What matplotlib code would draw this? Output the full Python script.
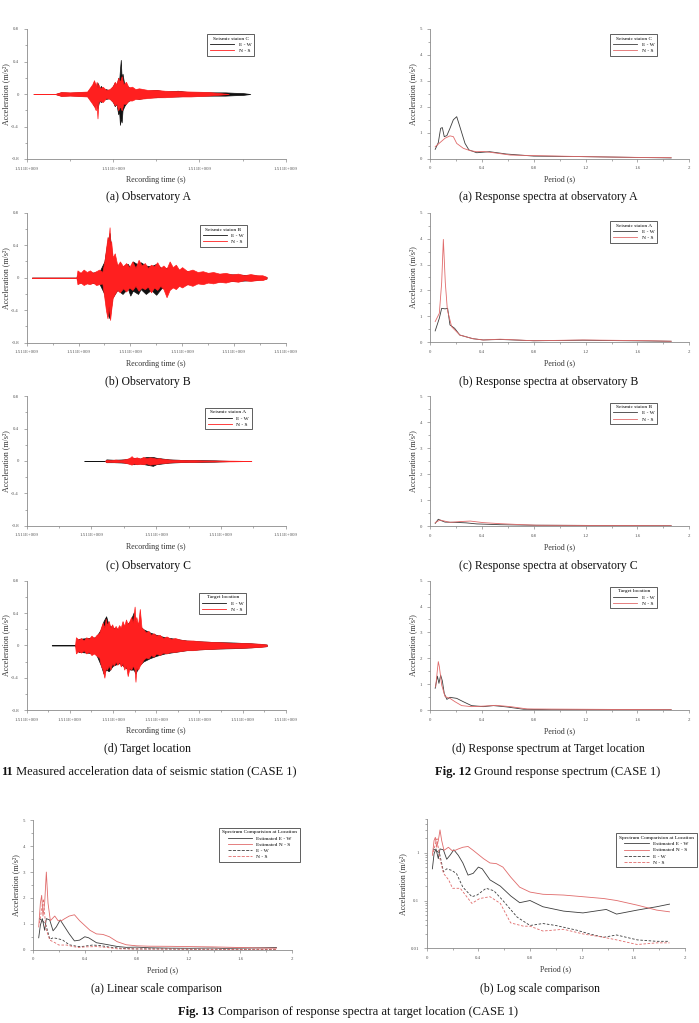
from matplotlib import pyplot as plt
from matplotlib.lines import Line2D
from matplotlib.ticker import MultipleLocator, FuncFormatter, LogLocator, NullFormatter

# ----- GENERAL STYLE -----
plt.rcParams['font.family'] = ['Liberation Serif', 'DejaVu Serif']

W, H = 699, 1023
EW_DARK = '#111111'     # E-W TRACE IN TIME HISTORIES
NS_RED = '#ff1f1f'      # N-S TRACE IN TIME HISTORIES
EW_SPEC = '#3c3c3c'     # E-W SPECTRUM
NS_SPEC = '#e06a6a'     # N-S SPECTRUM
AXIS_COL = '#8a8a8a'

# ----- TIME HISTORY DATA (seconds after T0, envelope of the record, m/s2) -----
T0 = 1511000000

# (a) OBSERVATORY A  (seismic station C)
a_ew_t = [8, 33, 40, 50, 60, 70, 76, 78, 80, 82, 84, 86, 88, 92, 96, 100, 102, 104, 106, 107,
          108, 109, 110, 111, 113, 116, 120, 125, 130, 140, 150, 160, 175, 190, 210, 230, 240, 250, 259]
a_ew_up = [0, 0, 0.02, 0.015, 0.02, 0.02, 0.1, 0.15, 0.08, 0.14, 0.06, 0.1, 0.05, 0.06, 0.04, 0.1,
           0.14, 0.1, 0.2, 0.15, 0.3, 0.42, 0.18, 0.25, 0.12, 0.1, 0.07, 0.05, 0.06, 0.04, 0.05, 0.03,
           0.04, 0.02, 0.02, 0.02, 0.015, 0.012, 0]
a_ew_lo = [0, 0, -0.02, -0.015, -0.02, -0.02, -0.1, -0.15, -0.1, -0.18, -0.08, -0.1, -0.05, -0.06,
           -0.05, -0.1, -0.15, -0.12, -0.25, -0.2, -0.38, -0.3, -0.35, -0.2, -0.15, -0.1, -0.07, -0.05,
           -0.06, -0.04, -0.04, -0.03, -0.03, -0.02, -0.02, -0.02, -0.015, -0.012, 0]
a_ns_t = [8, 33, 40, 50, 60, 70, 76, 78, 80, 81, 82, 83, 85, 88, 92, 96, 100, 102, 104, 106, 108,
          110, 112, 115, 118, 122, 126, 130, 140, 150, 160, 175, 190, 210, 234]
a_ns_up = [0, 0, 0.025, 0.02, 0.025, 0.03, 0.12, 0.17, 0.1, 0.15, 0.08, 0.12, 0.07, 0.09, 0.05,
           0.06, 0.1, 0.15, 0.12, 0.2, 0.15, 0.22, 0.12, 0.15, 0.08, 0.09, 0.06, 0.07, 0.05, 0.05,
           0.04, 0.035, 0.03, 0.025, 0]
a_ns_lo = [0, 0, -0.025, -0.02, -0.025, -0.03, -0.12, -0.15, -0.2, -0.12, -0.3, -0.1, -0.08, -0.1,
           -0.05, -0.06, -0.1, -0.14, -0.12, -0.2, -0.15, -0.2, -0.12, -0.12, -0.08, -0.08, -0.06,
           -0.06, -0.05, -0.04, -0.04, -0.03, -0.03, -0.02, 0]

# (b) OBSERVATORY B  (seismic station B)
b_ew_t = [10, 96, 100, 120, 140, 150, 156, 160, 165, 175, 185, 195, 200, 205, 215, 220, 230, 240,
          250, 260, 270, 285, 300, 330, 360, 400, 440, 463]
b_ew_up = [0, 0, 0.06, 0.06, 0.07, 0.2, 0.45, 0.55, 0.25, 0.15, 0.14, 0.17, 0.12, 0.2, 0.16, 0.19,
           0.15, 0.14, 0.17, 0.12, 0.12, 0.1, 0.09, 0.06, 0.05, 0.04, 0.03, 0.01]
b_ew_lo = [0, 0, -0.06, -0.06, -0.07, -0.2, -0.45, -0.5, -0.25, -0.15, -0.2, -0.13, -0.22, -0.16,
           -0.2, -0.14, -0.2, -0.15, -0.21, -0.13, -0.12, -0.1, -0.09, -0.06, -0.05, -0.04, -0.03, -0.01]
b_ns_t = [10, 96, 98, 104, 110, 116, 122, 128, 134, 140, 146, 150, 153, 156, 158, 160, 161, 163, 166,
          170, 175, 180, 186, 192, 198, 204, 210, 216, 222, 228, 234, 240, 246, 252, 258, 264, 270,
          276, 282, 288, 294, 300, 310, 320, 330, 340, 350, 360, 372, 384, 396, 408, 420, 432, 444,
          455, 463]
b_ns_up = [0, 0, 0.09, 0.06, 0.1, 0.07, 0.09, 0.06, 0.08, 0.1, 0.07, 0.2, 0.35, 0.5, 0.45, 0.62,
           0.4, 0.45, 0.25, 0.3, 0.15, 0.2, 0.14, 0.18, 0.13, 0.2, 0.12, 0.22, 0.15, 0.18, 0.12, 0.16,
           0.14, 0.19, 0.12, 0.15, 0.11, 0.2, 0.13, 0.16, 0.1, 0.13, 0.08, 0.1, 0.07, 0.08, 0.06, 0.07,
           0.05, 0.06, 0.04, 0.05, 0.03, 0.045, 0.03, 0.03, 0.01]
b_ns_lo = [0, 0, -0.08, -0.06, -0.09, -0.07, -0.08, -0.06, -0.09, -0.08, -0.07, -0.25, -0.4, -0.5,
           -0.35, -0.45, -0.52, -0.4, -0.25, -0.2, -0.15, -0.18, -0.13, -0.17, -0.12, -0.15, -0.1,
           -0.16, -0.12, -0.14, -0.11, -0.18, -0.12, -0.15, -0.1, -0.14, -0.24, -0.15, -0.12, -0.14,
           -0.1, -0.12, -0.08, -0.1, -0.07, -0.08, -0.06, -0.07, -0.05, -0.06, -0.04, -0.05, -0.03,
           -0.04, -0.03, -0.03, -0.01]

# (c) OBSERVATORY C  (seismic station A)
c_ew_t = [89, 121, 123, 135, 150, 160, 165, 175, 185, 195, 200, 210, 220, 235, 250, 270, 290, 319]
c_ew_up = [0, 0, 0.02, 0.015, 0.02, 0.03, 0.04, 0.03, 0.05, 0.05, 0.04, 0.03, 0.02, 0.015, 0.01,
           0.01, 0.008, 0]
c_ew_lo = [0, 0, -0.015, -0.015, -0.02, -0.03, -0.04, -0.03, -0.045, -0.06, -0.04, -0.03, -0.02,
           -0.015, -0.01, -0.01, -0.008, 0]
c_ns_t = [121, 123, 130, 137, 144, 151, 156, 160, 162, 165, 170, 175, 180, 185, 190, 195, 200, 205,
          210, 218, 226, 235, 245, 258, 272, 290, 319, 347]
c_ns_up = [0, 0.015, 0.01, 0.018, 0.012, 0.02, 0.03, 0.045, 0.06, 0.035, 0.045, 0.03, 0.05, 0.035,
           0.045, 0.04, 0.03, 0.035, 0.025, 0.02, 0.015, 0.015, 0.01, 0.01, 0.007, 0.006, 0.004, 0]
c_ns_lo = [0, -0.015, -0.01, -0.015, -0.012, -0.02, -0.03, -0.04, -0.045, -0.03, -0.04, -0.035,
           -0.04, -0.03, -0.045, -0.04, -0.035, -0.03, -0.025, -0.02, -0.015, -0.012, -0.01, -0.01,
           -0.007, -0.006, -0.004, 0]

# (d) TARGET LOCATION
d_ew_t = [58, 112, 120, 140, 160, 172, 178, 184, 190, 200, 215, 230, 240, 248, 252, 260, 270, 285,
          300, 320, 345, 370, 400, 440, 480, 520, 556]
d_ew_up = [0, 0, 0.08, 0.09, 0.1, 0.2, 0.3, 0.36, 0.25, 0.22, 0.2, 0.25, 0.3, 0.41, 0.3, 0.25, 0.2,
           0.16, 0.13, 0.1, 0.08, 0.06, 0.05, 0.04, 0.035, 0.025, 0.01]
d_ew_lo = [0, 0, -0.08, -0.09, -0.1, -0.25, -0.35, -0.3, -0.32, -0.25, -0.22, -0.28, -0.3, -0.3,
           -0.35, -0.25, -0.2, -0.16, -0.13, -0.1, -0.08, -0.06, -0.05, -0.04, -0.035, -0.025, -0.01]
d_ns_t = [112, 114, 120, 126, 132, 138, 144, 150, 156, 162, 168, 172, 176, 180, 183, 186, 190, 194,
          198, 202, 206, 210, 214, 218, 222, 226, 230, 234, 238, 242, 246, 250, 252, 254, 258, 262,
          266, 270, 276, 282, 288, 294, 300, 308, 316, 324, 334, 344, 356, 370, 385, 400, 420, 440,
          460, 480, 500, 520, 540, 556]
d_ns_up = [0, 0.1, 0.07, 0.09, 0.06, 0.1, 0.08, 0.12, 0.09, 0.13, 0.15, 0.22, 0.28, 0.22, 0.33, 0.25,
           0.3, 0.22, 0.26, 0.2, 0.24, 0.2, 0.25, 0.22, 0.3, 0.24, 0.32, 0.26, 0.3, 0.35, 0.28, 0.48,
           0.3, 0.35, 0.25, 0.45, 0.22, 0.2, 0.16, 0.18, 0.13, 0.15, 0.12, 0.13, 0.09, 0.11, 0.08,
           0.09, 0.07, 0.06, 0.06, 0.05, 0.045, 0.04, 0.035, 0.03, 0.03, 0.025, 0.02, 0.01]
d_ns_lo = [0, -0.1, -0.07, -0.09, -0.06, -0.1, -0.08, -0.12, -0.1, -0.13, -0.15, -0.25, -0.3, -0.4,
           -0.28, -0.3, -0.25, -0.3, -0.22, -0.25, -0.2, -0.24, -0.2, -0.26, -0.22, -0.3, -0.25,
           -0.38, -0.28, -0.3, -0.25, -0.3, -0.45, -0.28, -0.3, -0.25, -0.22, -0.18, -0.15, -0.16,
           -0.12, -0.14, -0.1, -0.12, -0.09, -0.1, -0.08, -0.08, -0.07, -0.06, -0.06, -0.05, -0.045,
           -0.04, -0.035, -0.03, -0.03, -0.025, -0.02, -0.01]

# ----- RESPONSE SPECTRA DATA (period s, acceleration m/s2) -----
spA_ew_T = [0.04, 0.064, 0.082, 0.095, 0.11, 0.13, 0.154, 0.18, 0.206, 0.23, 0.27, 0.30, 0.36, 0.46,
            0.59, 0.80, 1.18, 1.57, 1.86]
spA_ew_S = [0.36, 0.62, 1.17, 1.2, 0.85, 0.89, 1.17, 1.5, 1.62, 1.24, 0.59, 0.34, 0.23, 0.27, 0.18,
            0.1, 0.08, 0.05, 0.03]
spA_ns_T = [0.04, 0.077, 0.116, 0.154, 0.18, 0.206, 0.257, 0.31, 0.36, 0.41, 0.49, 0.62, 0.80, 1.18,
            1.6, 1.86]
spA_ns_S = [0.46, 0.62, 0.79, 0.88, 0.85, 0.59, 0.4, 0.31, 0.27, 0.28, 0.23, 0.14, 0.12, 0.08, 0.05,
            0.04]

spB_ew_T = [0.04, 0.072, 0.09, 0.116, 0.136, 0.154, 0.19, 0.23, 0.33, 0.41, 0.54, 0.8, 1.18, 1.7, 1.86]
spB_ew_S = [0.44, 0.93, 1.31, 1.29, 1.31, 0.67, 0.54, 0.28, 0.14, 0.09, 0.11, 0.06, 0.08, 0.05, 0.04]
spB_ns_T = [0.04, 0.072, 0.09, 0.103, 0.118, 0.134, 0.167, 0.23, 0.33, 0.41, 0.54, 0.8, 1.18, 1.7, 1.86]
spB_ns_S = [0.8, 1.12, 2.3, 3.97, 2.3, 1.25, 0.6, 0.28, 0.14, 0.09, 0.12, 0.06, 0.09, 0.06, 0.04]

spC_ew_T = [0.04, 0.064, 0.09, 0.116, 0.2, 0.28, 0.36, 0.54, 0.8, 1.86]
spC_ew_S = [0.1, 0.26, 0.2, 0.15, 0.14, 0.12, 0.08, 0.05, 0.03, 0.01]
spC_ns_T = [0.04, 0.077, 0.103, 0.154, 0.23, 0.31, 0.41, 0.54, 0.67, 0.82, 1.86]
spC_ns_S = [0.13, 0.23, 0.2, 0.14, 0.17, 0.19, 0.13, 0.09, 0.06, 0.03, 0.01]

spD_ew_T = [0.04, 0.057, 0.069, 0.082, 0.095, 0.11, 0.13, 0.154, 0.206, 0.257, 0.32, 0.41, 0.49,
            0.59, 0.72, 0.93, 1.86]
spD_ew_S = [0.84, 1.31, 1.03, 1.35, 1.13, 0.64, 0.41, 0.49, 0.45, 0.32, 0.17, 0.13, 0.17, 0.12,
            0.03, 0.01, 0.01]
spD_ns_T = [0.044, 0.057, 0.064, 0.072, 0.09, 0.116, 0.154, 0.193, 0.244, 0.32, 0.41, 0.51, 0.62,
            0.75, 1.86]
spD_ns_S = [0.9, 1.55, 1.87, 1.68, 0.97, 0.52, 0.45, 0.32, 0.17, 0.13, 0.15, 0.18, 0.13, 0.04, 0.01]

# ----- COMPARISON AT TARGET LOCATION (FIG. 13) -----
est_ew_T = [0.044, 0.057, 0.072, 0.09, 0.103, 0.129, 0.155, 0.18, 0.21, 0.245, 0.28, 0.32, 0.36,
            0.40, 0.43, 0.49, 0.57, 0.65, 0.72, 0.80, 0.90, 1.06, 1.21, 1.39, 1.47, 1.63, 1.78, 1.88]
est_ew_S = [0.46, 0.95, 1.2, 0.75, 1.2, 1.15, 0.73, 0.88, 1.15, 0.88, 0.61, 0.34, 0.37, 0.5, 0.46,
            0.27, 0.2, 0.125, 0.09, 0.1, 0.074, 0.06, 0.055, 0.065, 0.052, 0.063, 0.074, 0.084]
est_ns_T = [0.044, 0.057, 0.067, 0.077, 0.09, 0.103, 0.116, 0.134, 0.168, 0.194, 0.22, 0.245, 0.28,
            0.32, 0.36, 0.44, 0.49, 0.54, 0.59, 0.65, 0.72, 0.80, 0.90, 1.06, 1.21, 1.37, 1.47, 1.63,
            1.78, 1.88]
est_ns_S = [0.88, 1.8, 2.1, 1.3, 1.8, 3.0, 1.8, 1.12, 1.3, 1.12, 1.12, 1.2, 1.3, 1.35, 1.12, 0.75,
            0.61, 0.59, 0.5, 0.31, 0.19, 0.15, 0.135, 0.13, 0.12, 0.11, 0.1, 0.08, 0.063, 0.058]
meas_ew_T = [0.05, 0.077, 0.10, 0.13, 0.155, 0.19, 0.23, 0.28, 0.35, 0.39, 0.46, 0.52, 0.59, 0.70,
             0.80, 0.90, 1.00, 1.16, 1.26, 1.37, 1.47, 1.63, 1.78, 1.88]
meas_ew_S = [1.2, 1.1, 0.95, 0.4, 0.46, 0.43, 0.37, 0.19, 0.12, 0.13, 0.18, 0.16, 0.1, 0.045, 0.03,
             0.033, 0.03, 0.024, 0.02, 0.017, 0.019, 0.015, 0.014, 0.014]
meas_ns_T = [0.05, 0.08, 0.10, 0.13, 0.17, 0.20, 0.26, 0.31, 0.35, 0.41, 0.49, 0.57, 0.65, 0.75,
             0.80, 0.90, 1.06, 1.21, 1.37, 1.47, 1.63, 1.78, 1.88]
meas_ns_S = [1.03, 1.96, 0.8, 0.37, 0.27, 0.18, 0.18, 0.12, 0.087, 0.11, 0.12, 0.087, 0.034, 0.029,
             0.029, 0.023, 0.025, 0.02, 0.017, 0.015, 0.012, 0.013, 0.013]


#----- HELPERS -----
def axes_px(fig, left, top, right, bottom):
    # AXES GIVEN IN PIXELS OF THE 699x1023 PAGE
    return fig.add_axes([left / W, 1 - bottom / H, (right - left) / W, (bottom - top) / H])


def style(ax, ylab_x):
    for s in ['top', 'right']:
        ax.spines[s].set_visible(False)
    for s in ['left', 'bottom']:
        ax.spines[s].set_color(AXIS_COL)
        ax.spines[s].set_linewidth(0.6)
    ax.tick_params(which='both', direction='out', color=AXIS_COL, labelcolor='#555555',
                   labelsize=3.5, width=0.5, pad=3)
    ax.tick_params(which='major', length=2.5)
    ax.tick_params(which='minor', length=1.4)
    ax.set_ylabel('Acceleration (m/s²)', fontsize=5.8, color='#333333')
    ax.yaxis.set_label_coords(ylab_x, 0.5)
    ax.xaxis.set_label_coords(0.5, -0.13)


def legend(ax, title, names, colors, styles, anchor):
    handles = [Line2D([], [], color=c, lw=0.6, ls=s) for c, s in zip(colors, styles)]
    leg = ax.legend(handles, names, title=title, loc='upper right', bbox_to_anchor=anchor,
                    fontsize=3.9, title_fontsize=3.9, fancybox=False, edgecolor='#444444',
                    framealpha=1, handlelength=4.5, borderpad=0.5, labelspacing=0.25,
                    handletextpad=0.8, borderaxespad=0)
    leg.get_frame().set_linewidth(0.6)


def time_panel(fig, top, bottom, span, ew, ns, title, anchor):
    ax = axes_px(fig, 26.7, top, 285.7, bottom)
    ew_t, ew_up, ew_lo = ew
    ns_t, ns_up, ns_lo = ns
    ax.fill_between([T0 + t for t in ew_t], ew_lo, ew_up, color=EW_DARK, lw=0.5)
    ax.fill_between([T0 + t for t in ns_t], ns_lo, ns_up, color=NS_RED, lw=0.5)
    ax.set_xlim(T0, T0 + span)
    ax.set_ylim(-0.8, 0.8)
    ax.xaxis.set_major_locator(MultipleLocator(100))
    ax.xaxis.set_minor_locator(MultipleLocator(50))
    ax.xaxis.set_major_formatter(FuncFormatter(lambda v, p: f"{v / 1e9:.3f}E+009"))
    ax.yaxis.set_major_locator(MultipleLocator(0.4))
    ax.yaxis.set_minor_locator(MultipleLocator(0.2))
    ax.yaxis.set_major_formatter(FuncFormatter(lambda v, p: f"{v:g}"))
    style(ax, -0.064)
    ax.set_xlabel('Recording time (s)', fontsize=5.8, color='#333333')
    legend(ax, title, ['E - W', 'N - S'], [EW_DARK, NS_RED], ['-', '-'], anchor)
    return ax


def period_axis(ax):
    ax.set_xlim(0, 2)
    ax.xaxis.set_major_locator(MultipleLocator(0.4))
    ax.xaxis.set_minor_locator(MultipleLocator(0.2))
    ax.xaxis.set_major_formatter(FuncFormatter(lambda v, p: f"{v:g}"))
    ax.set_xlabel('Period (s)', fontsize=5.8, color='#333333')


def spectra_panel(fig, top, bottom, ew, ns, title, anchor):
    ax = axes_px(fig, 430, top, 689.3, bottom)
    ax.plot(ew[0], ew[1], color=EW_SPEC, lw=0.6)
    ax.plot(ns[0], ns[1], color=NS_SPEC, lw=0.6)
    period_axis(ax)
    ax.set_ylim(0, 5)
    ax.yaxis.set_major_locator(MultipleLocator(1))
    ax.yaxis.set_minor_locator(MultipleLocator(0.5))
    ax.yaxis.set_major_formatter(FuncFormatter(lambda v, p: f"{v:g}"))
    style(ax, -0.05)
    legend(ax, title, ['E - W', 'N - S'], [EW_SPEC, NS_SPEC], ['-', '-'], anchor)
    return ax


def comparison_panel(ax, log, ylab_x, anchor):
    ax.plot(est_ew_T, est_ew_S, color=EW_SPEC, lw=0.6)
    ax.plot(est_ns_T, est_ns_S, color=NS_SPEC, lw=0.6)
    ax.plot(meas_ew_T, meas_ew_S, color=EW_SPEC, lw=0.6, ls=(0, (3, 2)))
    ax.plot(meas_ns_T, meas_ns_S, color=NS_SPEC, lw=0.6, ls=(0, (3, 2)))
    period_axis(ax)
    if log:
        ax.set_yscale('log')
        ax.set_ylim(0.01, 5)
        ax.yaxis.set_major_locator(LogLocator(base=10))
        ax.yaxis.set_minor_locator(LogLocator(base=10, subs=range(2, 10)))
        ax.yaxis.set_minor_formatter(NullFormatter())
    else:
        ax.set_ylim(0, 5)
        ax.yaxis.set_major_locator(MultipleLocator(1))
        ax.yaxis.set_minor_locator(MultipleLocator(0.5))
    ax.yaxis.set_major_formatter(FuncFormatter(lambda v, p: f"{v:g}"))
    style(ax, ylab_x)
    legend(ax, 'Spectrum Comparision at Location',
           ['Estimated E - W', 'Estimated N - S', 'E - W', 'N - S'],
           [EW_SPEC, NS_SPEC, EW_SPEC, NS_SPEC], ['-', '-', '--', '--'], anchor)


def caption(fig, x, y, txt, size=8.5):
    fig.text(x / W, 1 - y / H, txt, ha='center', va='center', fontsize=size, color='#111111')


def fig_caption(fig, x, y, bold, rest, centred=True, size=9):
    # BOLD FIGURE NUMBER FOLLOWED BY NORMAL TEXT, PLACED AS ONE LINE
    r = fig.canvas.get_renderer()
    t1 = fig.text(0, 1 - y / H, bold, weight='bold', va='center', fontsize=size, color='#111111')
    t2 = fig.text(0, 1 - y / H, ' ' + rest, va='center', fontsize=size, color='#111111')
    w1 = t1.get_window_extent(r).width
    w2 = t2.get_window_extent(r).width
    x0 = x - (w1 + w2) / 2 if centred else x
    t1.set_x(x0 / W)
    t2.set_x((x0 + w1) / W)


#----- FIGURE -----
def main():
    fig = plt.figure(figsize=(W / 100, H / 100), dpi=100)

    # FIG. 11 : TIME HISTORIES
    time_panel(fig, 29, 159, 300, (a_ew_t, a_ew_up, a_ew_lo), (a_ns_t, a_ns_up, a_ns_lo),
               'Seismic staion C', (0.878, 0.96))
    time_panel(fig, 212.7, 342.7, 500, (b_ew_t, b_ew_up, b_ew_lo), (b_ns_t, b_ns_up, b_ns_lo),
               'Seismic staion B', (0.85, 0.905))
    time_panel(fig, 396.3, 525.7, 400, (c_ew_t, c_ew_up, c_ew_lo), (c_ns_t, c_ns_up, c_ns_lo),
               'Seismic staion A', (0.869, 0.912))
    time_panel(fig, 580.7, 710, 600, (d_ew_t, d_ew_up, d_ew_lo), (d_ns_t, d_ns_up, d_ns_lo),
               'Target location', (0.847, 0.907))

    # FIG. 12 : RESPONSE SPECTRA
    spectra_panel(fig, 29, 158.7, (spA_ew_T, spA_ew_S), (spA_ns_T, spA_ns_S),
                  'Seismic staion C', (0.876, 0.96))
    spectra_panel(fig, 212.7, 342.3, (spB_ew_T, spB_ew_S), (spB_ns_T, spB_ns_S),
                  'Seismic staion A', (0.876, 0.935))
    spectra_panel(fig, 396, 526, (spC_ew_T, spC_ew_S), (spC_ns_T, spC_ns_S),
                  'Seismic staion B', (0.876, 0.95))
    spectra_panel(fig, 580.7, 710, (spD_ew_T, spD_ew_S), (spD_ns_T, spD_ns_S),
                  'Target location', (0.876, 0.953))

    # FIG. 13 : COMPARISON
    ax_lin = axes_px(fig, 33, 820.3, 292, 949.7)
    comparison_panel(ax_lin, False, -0.051, (1.03, 0.943))
    ax_log = axes_px(fig, 426.7, 819.3, 685, 948.3)
    comparison_panel(ax_log, True, -0.077, (1.045, 0.89))

    # CAPTIONS
    caption(fig, 148, 197, '(a) Observatory A')
    caption(fig, 548.7, 197, '(a) Response spectra at observatory A')
    caption(fig, 148, 382, '(b) Observatory B')
    caption(fig, 548.7, 382, '(b) Response spectra at observatory B')
    caption(fig, 148, 566, '(c) Observatory C')
    caption(fig, 548.7, 566, '(c) Response spectra at observatory C')
    caption(fig, 148, 749.3, '(d) Target location')
    caption(fig, 548.7, 749.3, '(d) Response spectrum at Target location')
    fig_caption(fig, 1.5, 771.7, '11', 'Measured acceleration data of seismic station (CASE 1)',
                centred=False)
    fig_caption(fig, 547.5, 771.7, 'Fig. 12', 'Ground response spectrum (CASE 1)')
    caption(fig, 156.7, 989.3, '(a) Linear scale comparison')
    caption(fig, 539.7, 989.3, '(b) Log scale comparison')
    fig_caption(fig, 348, 1011.7, 'Fig. 13',
                'Comparison of response spectra at target location (CASE 1)')

    fig.savefig('out.png', dpi=100)


if __name__ == "__main__":
    main()
